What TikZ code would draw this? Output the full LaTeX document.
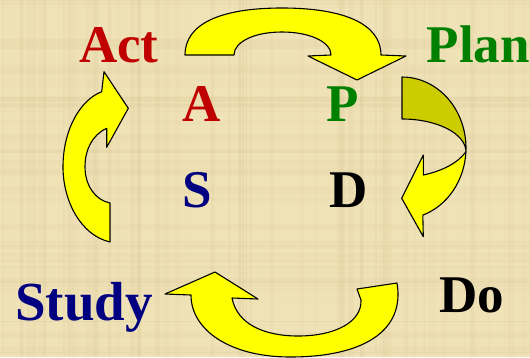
\documentclass[tikz,border=0pt]{standalone}
\usepackage{fontspec}
\setmainfont{Liberation Serif}
\definecolor{paper}{RGB}{240,226,183}
\definecolor{grain}{RGB}{205,182,128}
\definecolor{arrowyellow}{RGB}{255,255,0}
\definecolor{arrowback}{RGB}{204,204,0}
\definecolor{actred}{RGB}{192,0,0}
\definecolor{plangreen}{RGB}{0,128,0}
\definecolor{studyblue}{RGB}{0,0,128}
\tikzset{
  band/.style={draw=black, line width=1.1pt, line join=round},
  front/.style={band, fill=arrowyellow},
  back/.style={band, fill=arrowback},
  word/.style={inner sep=0pt, anchor=base west, font=\bfseries\fontsize{53}{60}\selectfont},
}
\begin{document}
\begin{tikzpicture}[x=1pt, y=-1pt]
  % paper background with faint fibres
  \fill[paper] (0,0) rectangle (530,357);
  \useasboundingbox (0,0) rectangle (530,357);
  \pgfmathsetseed{7}
  \foreach \i in {1,...,70} {
    \pgfmathsetmacro\xx{rnd*530}
    \pgfmathsetmacro\ww{1+rnd*5}
    \pgfmathsetmacro\oo{0.03+rnd*0.08}
    \fill[grain, opacity=\oo] (\xx,0) rectangle ++(\ww,357);
  }
  \foreach \i in {1,...,50} {
    \pgfmathsetmacro\yy{rnd*357}
    \pgfmathsetmacro\ww{1+rnd*5}
    \pgfmathsetmacro\oo{0.03+rnd*0.08}
    \fill[grain, opacity=\oo] (0,\yy) rectangle ++(530,\ww);
  }

  % Act -> Plan (top)
  \draw[front] (185,55) .. controls (185,24) and (220,8) .. (282,8)
    .. controls (344,8) and (381,24) .. (381,55)
    -- (406,56) -- (357,80) -- (308,56) -- (331,55)
    .. controls (331,42) and (310,32) .. (282,32)
    .. controls (254,32) and (234,42) .. (234,55) -- cycle;

  % Plan -> Do (right, twisted ribbon)
  \draw[back] (402,77) arc[start angle=-90, end angle=3, x radius=64, y radius=71]
    -- (466,152) arc[start angle=0, end angle=-90, x radius=64, y radius=33] -- cycle;
  \draw[front] (465.9,151.7) arc[start angle=3, end angle=71, x radius=64, y radius=71]
    -- (423.3,236.7) -- (401.7,198.3) -- (423.3,155) -- (423.3,175)
    .. controls (442,171) and (458,163) .. (465.9,151.7) -- cycle;

  % Do -> Study (bottom)
  \draw[front] (357,289) -- (397,283)
    .. controls (405,330) and (365,357) .. (290,357)
    .. controls (230,357) and (191,330) .. (191,295)
    -- (165,294) -- (215,272) -- (258,299) -- (232,298)
    .. controls (237,324) and (264,336) .. (298,336)
    .. controls (335,336) and (362,322) .. (361,300) -- cycle;

  % Study -> Act (left)
  \draw[front] (110,242)
    .. controls (80,235) and (63,200) .. (63,167)
    .. controls (63,130) and (80,100) .. (101.7,91.7)
    -- (104,71.7) -- (128.3,108.3) -- (106.7,147.3) -- (106.7,128.3)
    .. controls (92,135) and (85,150) .. (85,167)
    .. controls (85,185) and (95,200) .. (110,203) -- cycle;

  % labels
  \node[word, text=actred]    (act)   at (79,62.5)  {Act};
  \node[word, text=plangreen] (plan)  at (426.5,62) {Plan};
  \node[word, text=studyblue, font=\bfseries\fontsize{55}{60}\selectfont] (study) at (15,320.5) {Study};
  \node[word]                 (do)    at (439,312.5) {Do};
  \node[word, text=actred]    (a)     at (182.5,121.7) {A};
  \node[word, text=plangreen] (p)     at (326,121.7) {P};
  \node[word, text=studyblue] (s)     at (182,207.7) {S};
  \node[word]                 (d)     at (329,207.7) {D};
\end{tikzpicture}
\end{document}
